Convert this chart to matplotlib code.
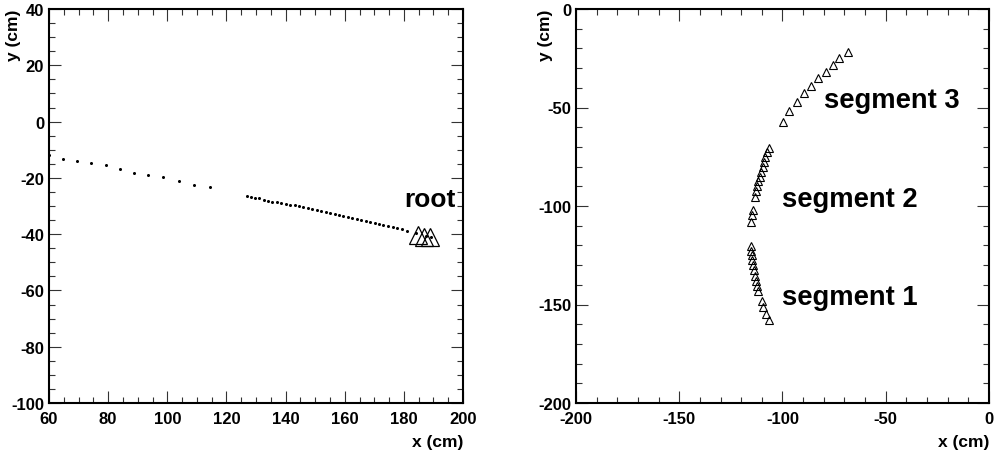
import matplotlib
matplotlib.use("Agg")
import matplotlib.pyplot as plt
from matplotlib.ticker import MultipleLocator

plt.rcParams['font.family'] = ['Liberation Sans', 'DejaVu Sans']
plt.rcParams['font.weight'] = 'bold'
plt.rcParams['axes.unicode_minus'] = False

# ---- left panel data ----
dots_x = [60.1, 64.8, 69.5, 74.1, 79.4, 84.1, 88.7, 93.6, 98.4, 104.1, 108.9, 114.3,
          126.9, 128.3, 129.8, 131.1, 132.7, 134.2, 135.5, 137.0, 138.6, 140.0,
          141.5, 143.1, 144.7, 146.0, 147.6, 149.1, 150.5, 152.1, 153.7, 155.0,
          156.6, 158.1, 159.5, 161.1, 162.6, 164.1, 165.6, 167.1, 168.6, 170.1,
          171.7, 173.1, 174.8, 176.2, 177.8, 179.3, 181.0, 184.2, 187.4, 189.2]
dots_y = [-11.9, -13.2, -14.0, -14.7, -15.4, -16.9, -18.1, -18.9, -19.7, -21.2, -22.6, -23.4,
          -26.6, -26.8, -27.0, -27.3, -27.8, -28.1, -28.5, -28.7, -28.9, -29.3,
          -29.5, -29.8, -30.1, -30.5, -30.8, -31.2, -31.5, -31.9, -32.3, -32.6,
          -32.9, -33.3, -33.6, -34.0, -34.4, -34.6, -35.0, -35.3, -35.7, -36.1,
          -36.4, -36.8, -37.1, -37.6, -37.9, -38.3, -38.8, -39.6, -40.6, -41.1]
root_x = [184.9, 186.9, 188.8]
root_y = [-40.3, -41.0, -41.0]

# ---- right panel data ----
seg1_x = [-115.4, -115.1, -114.9, -114.6, -114.3, -113.9, -113.5, -112.8, -112.2, -111.7,
          -110.1, -109.3, -108.0, -106.4]
seg1_y = [-120.2, -122.7, -124.9, -127.4, -129.9, -132.5, -135.4, -137.9, -140.4, -143.0,
          -148.1, -151.4, -154.8, -157.7]
seg2_x = [-106.4, -107.4, -108.3, -109.0, -109.6, -110.3, -111.0, -111.7, -112.2, -112.8,
          -113.2, -114.4, -114.8, -115.3]
seg2_y = [-70.7, -72.7, -75.3, -77.8, -80.4, -82.9, -85.1, -87.2, -89.7, -92.2,
          -95.6, -102.0, -104.6, -108.3]
seg3_x = [-99.9, -96.7, -93.1, -89.6, -86.2, -82.6, -79.1, -75.7, -72.5, -68.4]
seg3_y = [-57.5, -51.6, -47.4, -42.8, -38.9, -35.1, -31.8, -28.4, -24.9, -22.0]

labels_right = [("segment 1", -100, -150), ("segment 2", -100, -100), ("segment 3", -80, -50)]

fig = plt.figure(figsize=(9.95, 4.56), dpi=100)
W, H = 995, 456
axL = fig.add_axes([49 / W, 1 - 404 / H, (463 - 49) / W, 394 / H])
axR = fig.add_axes([576 / W, 1 - 404 / H, (989 - 576) / W, 394 / H])


def style(ax, xlim, ylim, xmaj, xmin, ymaj, ymin, ylab_x):
    ax.set_xlim(*xlim)
    ax.set_ylim(*ylim)
    ax.xaxis.set_major_locator(MultipleLocator(xmaj))
    ax.xaxis.set_minor_locator(MultipleLocator(xmin))
    ax.yaxis.set_major_locator(MultipleLocator(ymaj))
    ax.yaxis.set_minor_locator(MultipleLocator(ymin))
    ax.tick_params(which='both', direction='in', top=True, right=True, width=0.8,
                   color='#333333')
    ax.tick_params(which='major', length=8.5)
    ax.tick_params(which='minor', length=4.2)
    ax.tick_params(axis='x', which='major', pad=6.0, labelsize=12)
    ax.tick_params(axis='y', which='major', pad=3.5, labelsize=12)
    for s in ax.spines.values():
        s.set_linewidth(1.5)
        s.set_color('black')
    for lab in ax.get_xticklabels() + ax.get_yticklabels():
        lab.set_fontweight('bold')
    ax.text(1.0, -0.078, 'x (cm)', transform=ax.transAxes, ha='right', va='top',
            fontsize=12.5, fontweight='bold')
    ax.text(ylab_x, 1.0, 'y (cm)', transform=ax.transAxes, ha='center', va='top',
            rotation=90, fontsize=12.5, fontweight='bold')


style(axL, (60, 200), (-100, 40), 20, 5, 20, 5, -0.086)
style(axR, (-200, 0), (-200, 0), 50, 10, 50, 10, -0.074)

axL.plot(dots_x, dots_y, 'o', color='black', markersize=2.2, markeredgewidth=0)
axL.plot(root_x, root_y, '^', markerfacecolor='none', markeredgecolor='black',
         markersize=12.5, markeredgewidth=0.9)
axL.text(180, -30, 'root', fontsize=19, fontweight='bold', ha='left', va='baseline')

for sx, sy in [(seg1_x, seg1_y), (seg2_x, seg2_y), (seg3_x, seg3_y)]:
    axR.plot(sx, sy, '^', markerfacecolor='none', markeredgecolor='black',
             markersize=5.5, markeredgewidth=0.8)
for txt, tx, ty in labels_right:
    axR.text(tx, ty, txt, fontsize=19.7, fontweight='bold', ha='left', va='baseline')

fig.savefig('out.png', dpi=100)
